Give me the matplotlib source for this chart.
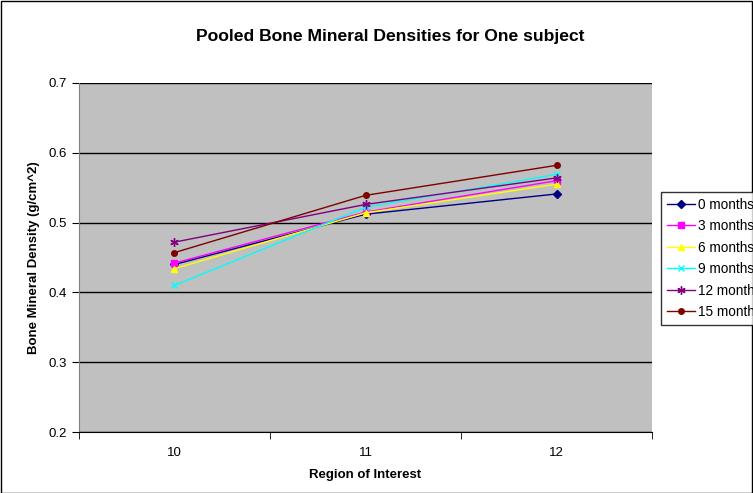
import matplotlib.pyplot as plt
from matplotlib.patches import Rectangle

plt.rcParams['font.family'] = ['Liberation Sans', 'DejaVu Sans']

regions = ['10', '11', '12']
m0 = [0.440, 0.512, 0.541]
m3 = [0.442, 0.515, 0.560]
m6 = [0.434, 0.514, 0.555]
m9 = [0.410, 0.522, 0.569]
m12 = [0.472, 0.526, 0.564]
m15 = [0.457, 0.539, 0.582]

series = [
    ('0 months', m0, '#000080', 'D', 4),
    ('3 months', m3, '#FF00FF', 's', 4),
    ('6 months', m6, '#FFFF00', '^', 5),
    ('9 months', m9, '#00FFFF', 'x', 4.5),
    ('12 months', m12, '#800080', (6, 2, 0), 6),
    ('15 months', m15, '#800000', 'o', 4),
]

fig = plt.figure(figsize=(7.53, 4.93), dpi=100)
ax = fig.add_axes([0.1049, 0.1237, 0.761, 0.708])
ax.set_facecolor('#C0C0C0')

x = list(range(len(regions)))
for name, vals, col, mk, ms in series:
    ax.plot(x, vals, color=col, marker=mk, markersize=ms, linewidth=1,
            markeredgewidth=1, label=name)

ax.set_xlim(-0.5, 2.5)
ax.set_ylim(0.2, 0.7)
ax.set_yticks([0.2, 0.3, 0.4, 0.5, 0.6, 0.7])
ax.set_yticklabels(['0.2', '0.3', '0.4', '0.5', '0.6', '0.7'])
ax.set_xticks(x)
ax.set_xticklabels(regions)
ax.set_xticks([-0.5, 0.5, 1.5, 2.5], minor=True)
ax.tick_params(axis='x', which='major', length=0, labelsize=9.5, pad=11)
ax.tick_params(axis='x', which='minor', length=5, direction='out')
ax.tick_params(axis='y', length=5, direction='out', labelsize=9.5)
ax.yaxis.grid(True, color='black', linewidth=1)
ax.set_axisbelow(True)
for s in ['top', 'right']:
    ax.spines[s].set_visible(False)
ax.spines['left'].set_color('#808080')
ax.spines['bottom'].set_color('black')

ax.set_xlabel('Region of Interest', fontsize=9.5, fontweight='bold', labelpad=7)
ax.set_ylabel('Bone Mineral Density (g/cm^2)', fontsize=9.5, fontweight='bold', labelpad=6)
fig.text(0.518, 0.925, 'Pooled Bone Mineral Densities for One subject',
         ha='center', va='center', fontsize=12.6, fontweight='bold')

leg = fig.legend(loc='upper left', bbox_to_anchor=(0.878, 0.61), fontsize=9.8,
                 frameon=True, fancybox=False, edgecolor='black',
                 handlelength=2.1, handletextpad=0.2, borderpad=0.4,
                 labelspacing=0.55, borderaxespad=0)
leg.get_frame().set_linewidth(1)

fig.patches.append(Rectangle((0.001, 0.001), 0.998, 0.997, transform=fig.transFigure,
                             fill=False, edgecolor='black', linewidth=1))

fig.savefig('out.png', dpi=100)
